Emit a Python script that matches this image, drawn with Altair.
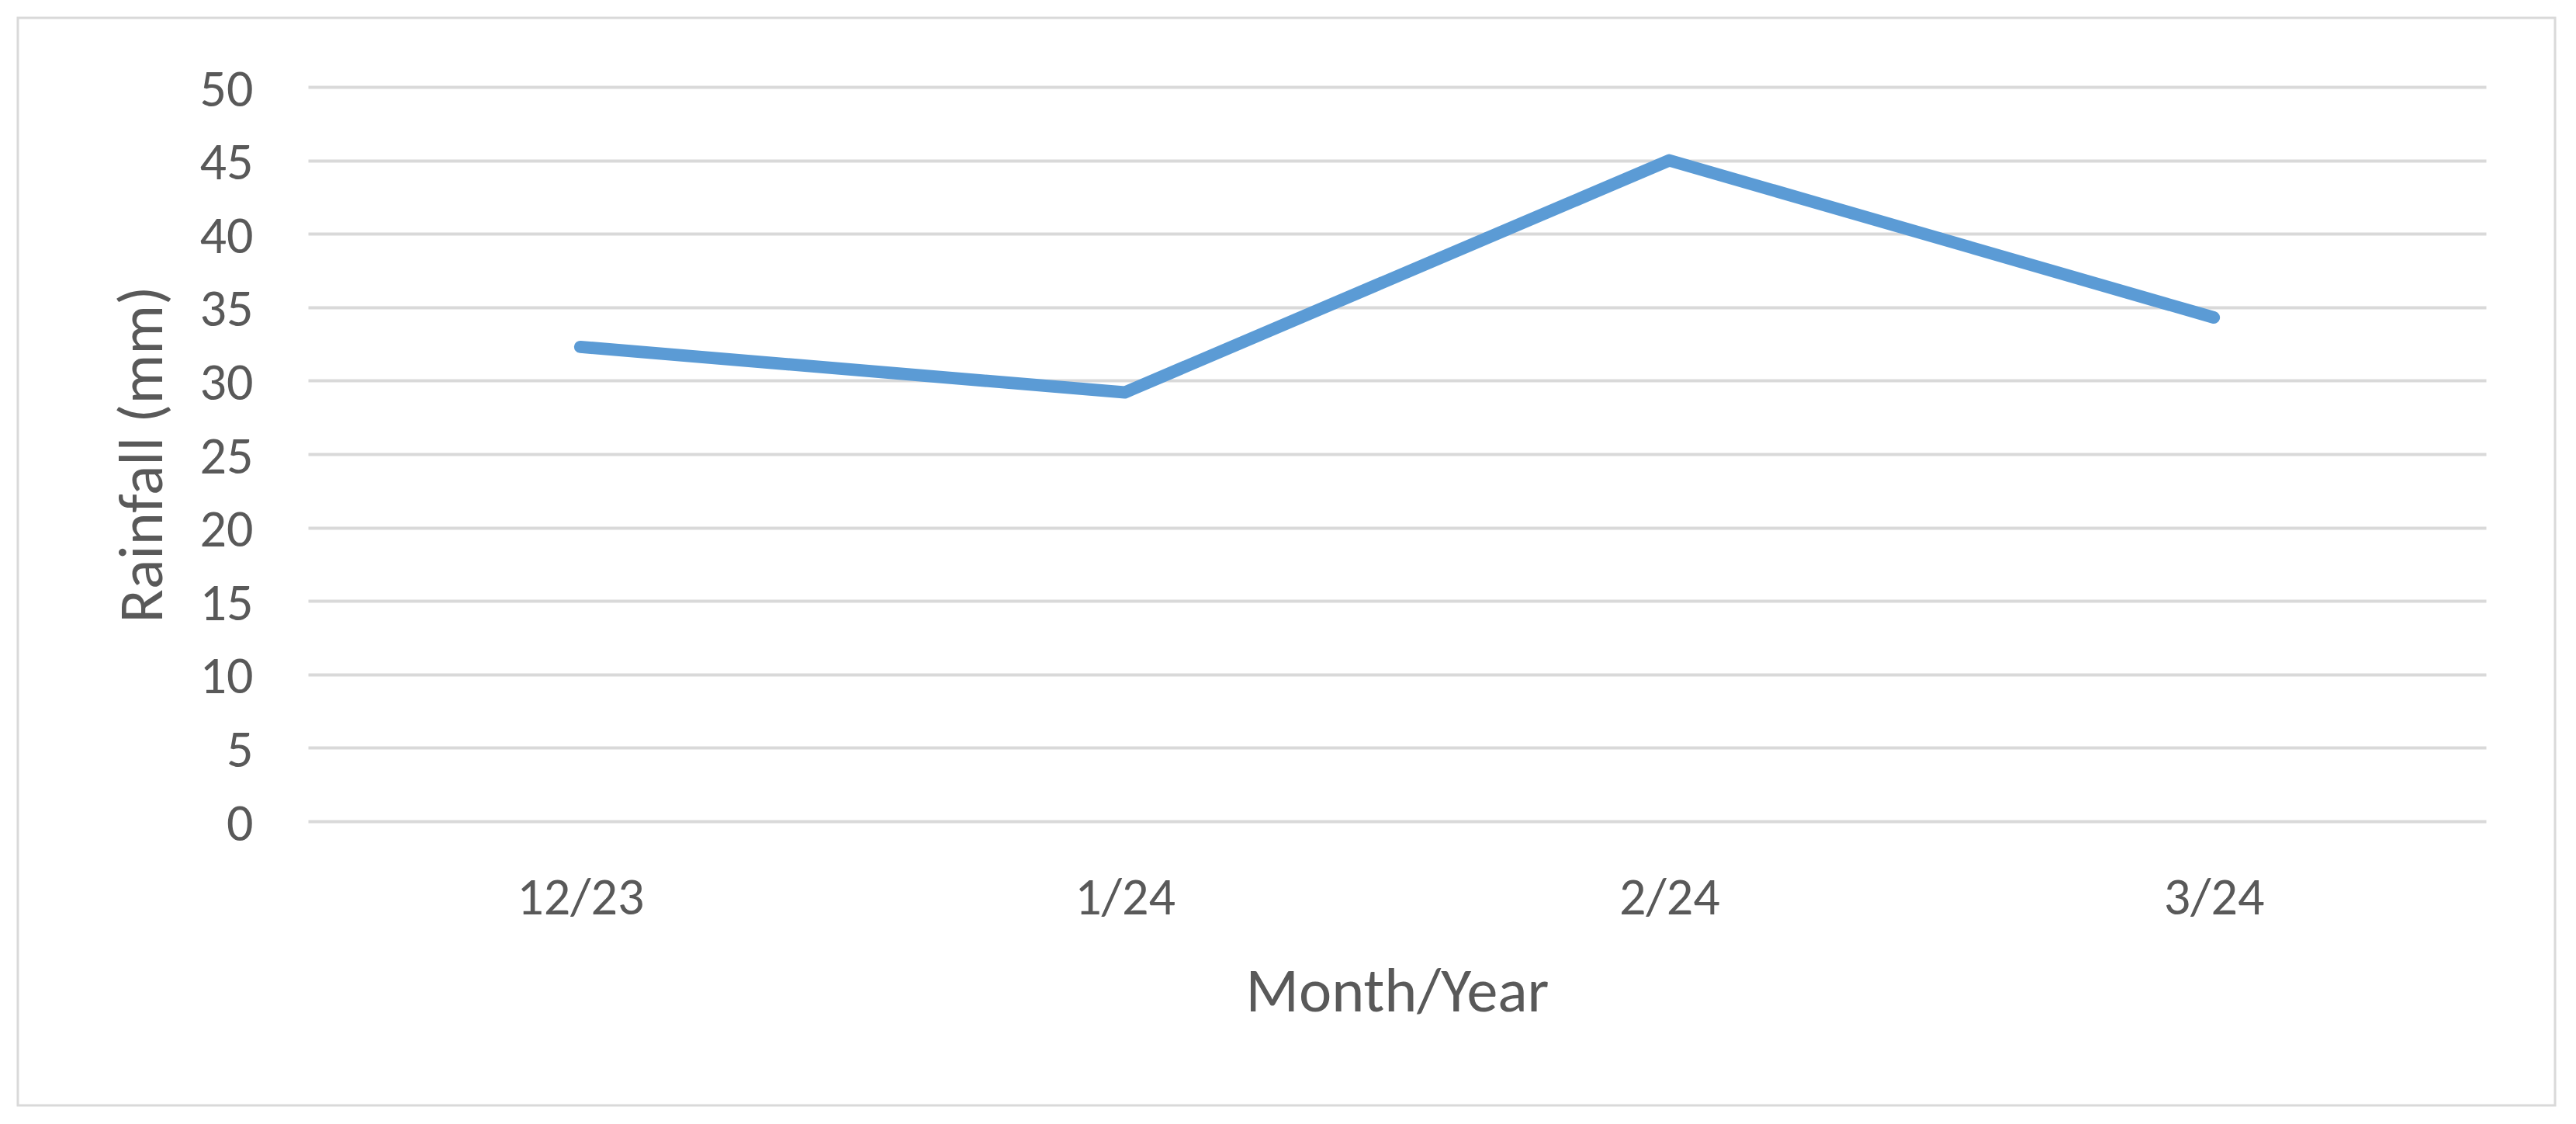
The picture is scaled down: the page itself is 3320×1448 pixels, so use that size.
import altair as alt
import pandas as pd

months = ["12/23", "1/24", "2/24", "3/24"]
rainfall = [32.3, 29.2, 45.0, 34.3]

df = pd.DataFrame({"Month": months, "Rainfall": rainfall})

FONT = "Carlito, Calibri, Lato, sans-serif"
TXT = "#595959"
GRID = "#d9d9d9"

W, H = 2807, 946

line = alt.Chart(df).mark_line(
    color="#5b9bd5", strokeWidth=16, strokeCap="round", strokeJoin="round"
).encode(
    x=alt.X(
        "Month:N",
        sort=months,
        scale=alt.Scale(type="point", padding=0.5),
        axis=alt.Axis(
            title="Month/Year",
            titleX=W / 2,
            titleY=220.5,
            titleAlign="center",
            titleBaseline="middle",
            titleFontSize=80,
            titleFontWeight="normal",
            titleFont=FONT,
            titleColor=TXT,
            labelFont=FONT,
            labelFontSize=68,
            labelColor=TXT,
            labelAngle=0,
            labelBaseline="top",
            labelPadding=65,
            ticks=False,
            tickSize=0,
            domain=False,
            grid=False,
        ),
    ),
    y=alt.Y(
        "Rainfall:Q",
        scale=alt.Scale(domain=[0, 50], nice=False),
        axis=alt.Axis(
            title="Rainfall (mm)",
            values=list(range(0, 55, 5)),
            titleX=-212.5,
            titleY=H / 2,
            titleAngle=270,
            titleAlign="center",
            titleBaseline="middle",
            titleFontSize=80,
            titleFontWeight="normal",
            titleFont=FONT,
            titleColor=TXT,
            labelFont=FONT,
            labelFontSize=68,
            labelColor=TXT,
            labelAlign="right",
            labelBaseline="middle",
            labelPadding=71,
            labelOffset=4,
            ticks=False,
            tickSize=0,
            domain=False,
            grid=True,
            gridColor=GRID,
            gridWidth=4,
        ),
    ),
)

border = alt.Chart(pd.DataFrame({"b": [0]})).mark_rect(
    fill=None, stroke=GRID, strokeWidth=3, clip=False
).encode(
    x=alt.value(-374),
    x2=alt.value(2896),
    y=alt.value(-89),
    y2=alt.value(1312),
)

chart = alt.layer(border, line).properties(
    width=W,
    height=H,
    autosize=alt.AutoSizeParams(type="none"),
    padding={"left": 389, "top": 104, "right": 108, "bottom": 382},
    background="white",
).configure_view(stroke=None)

chart.save("out.html", embed_options={"renderer": "svg", "actions": False})
